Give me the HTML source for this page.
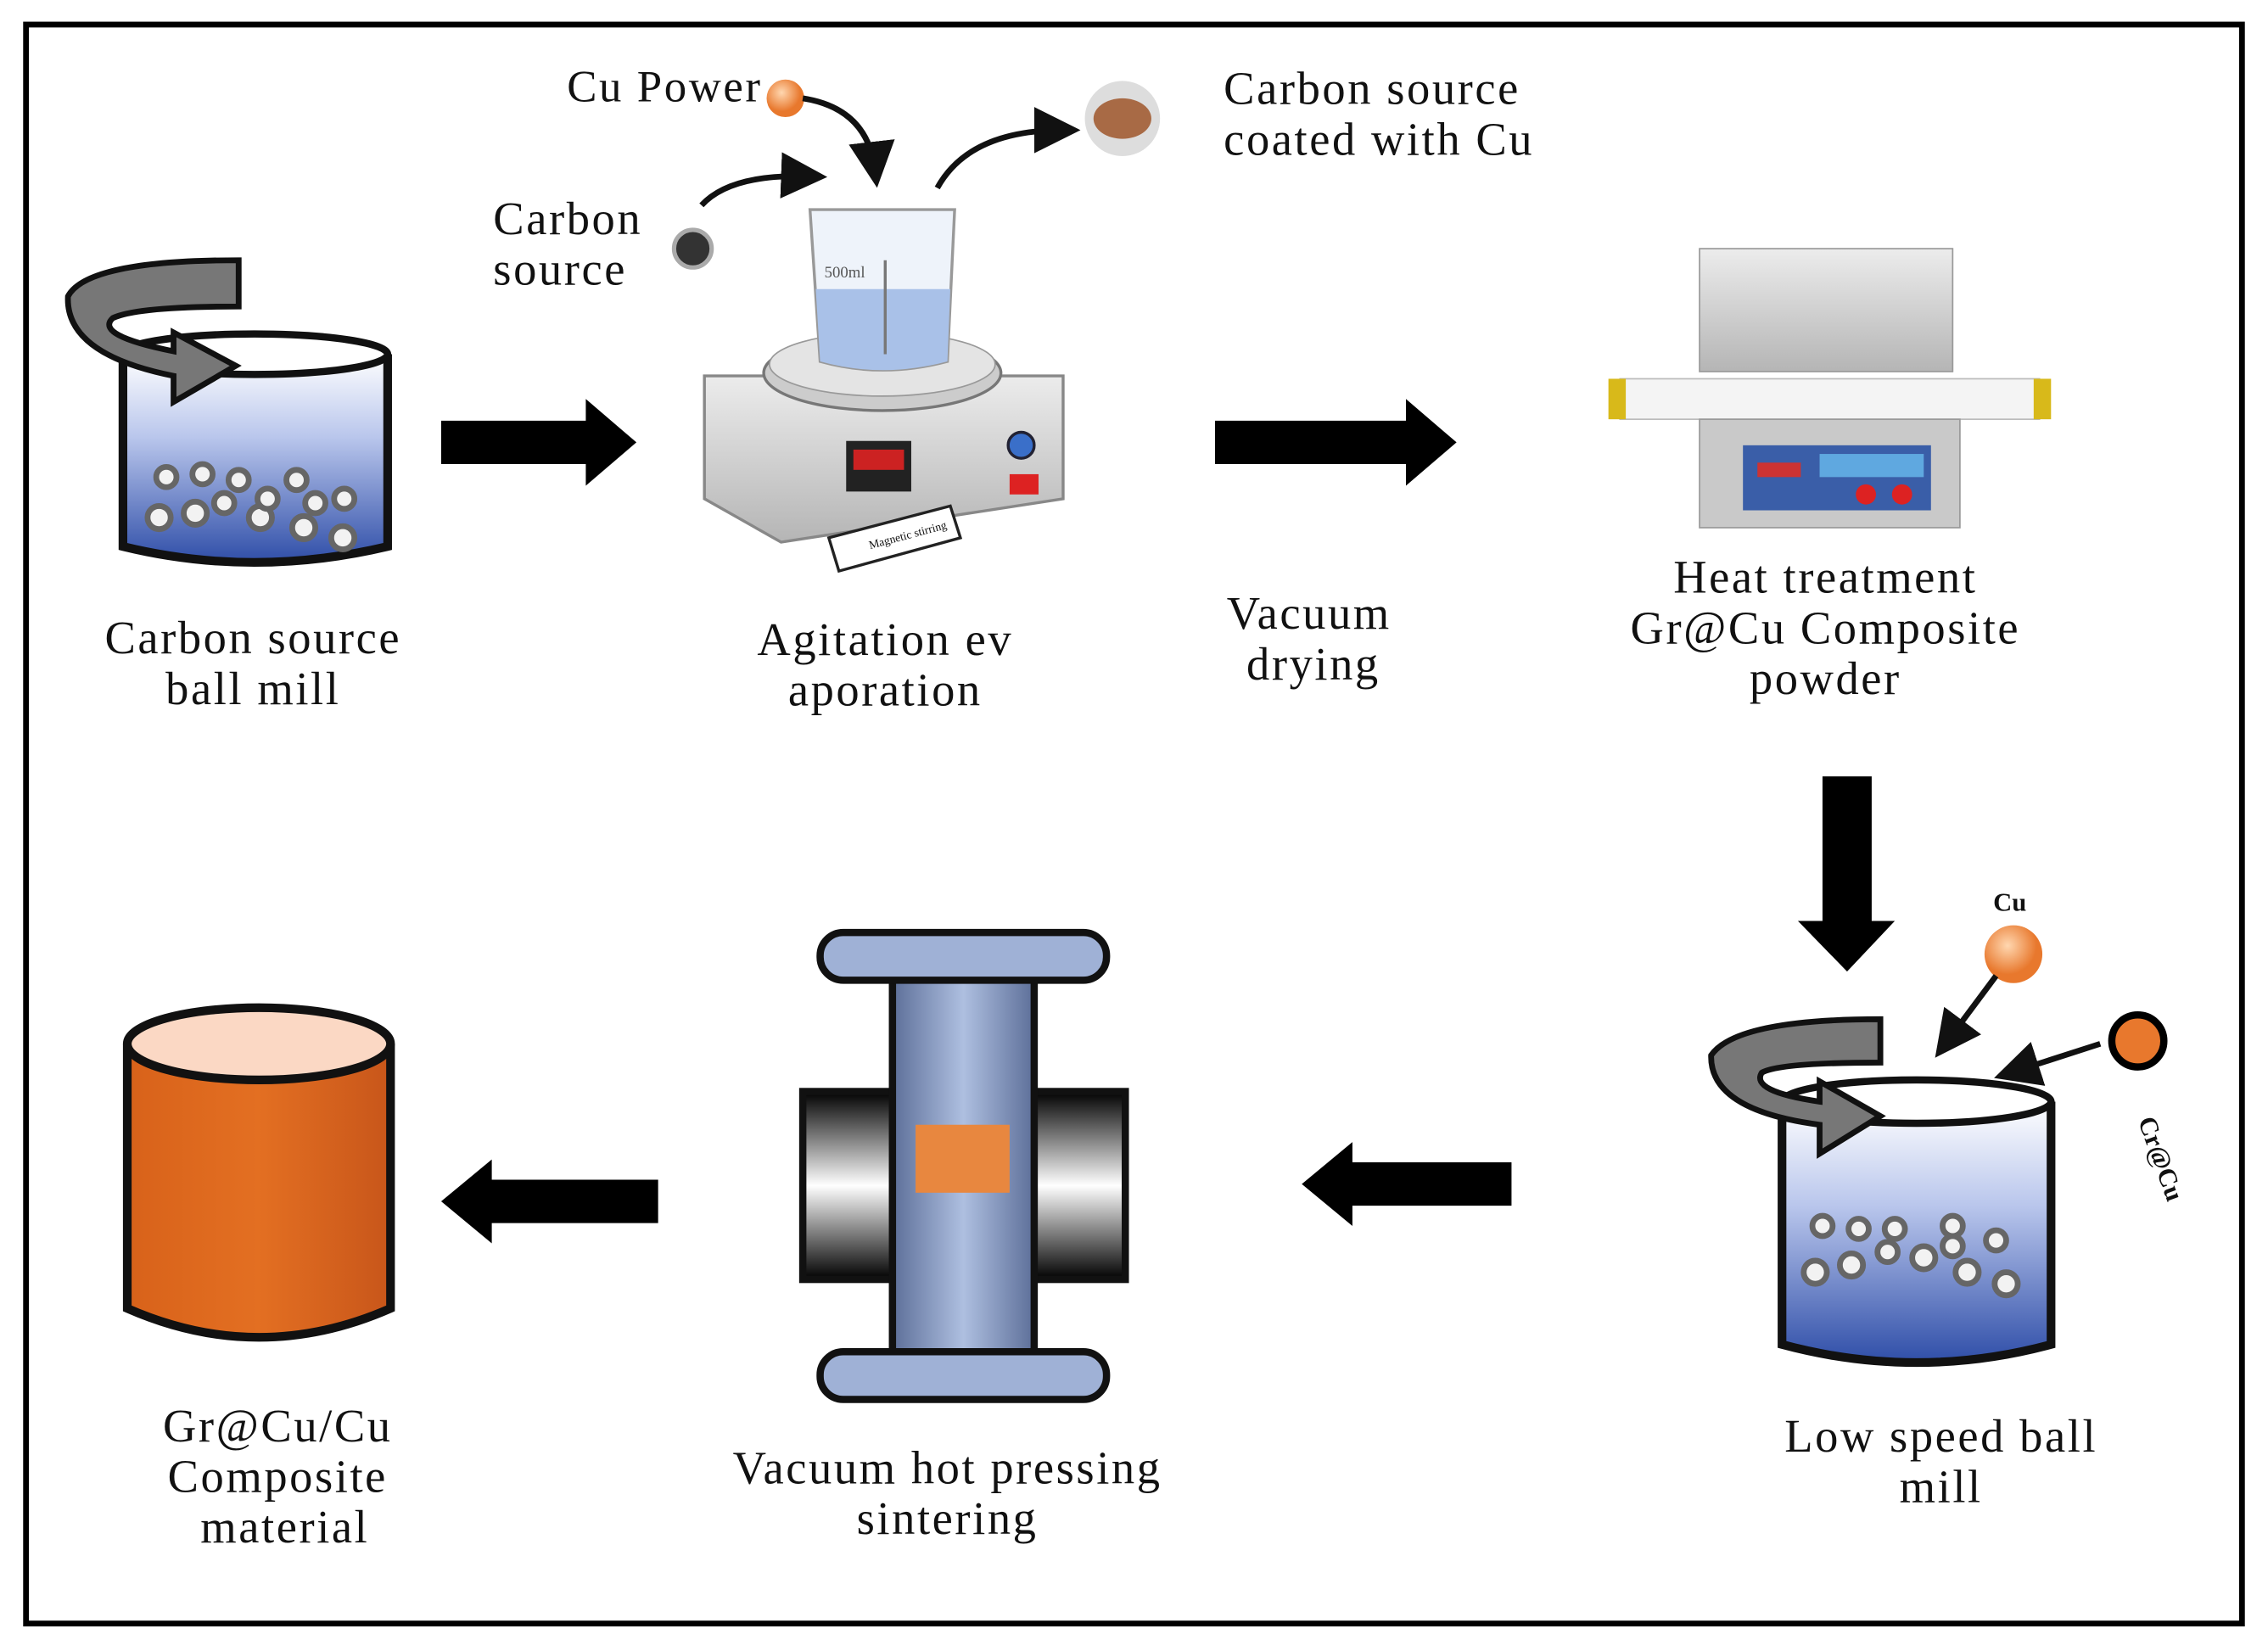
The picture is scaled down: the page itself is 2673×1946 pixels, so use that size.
<!DOCTYPE html>
<html><head><meta charset="utf-8"><style>
html,body{margin:0;padding:0;background:#fff;}
svg{display:block;}
text{font-family:"Liberation Serif",serif;fill:#111;letter-spacing:1.5px;}
text.s{letter-spacing:0;}
</style></head><body>
<svg width="2673" height="1946" viewBox="0 0 1568 1142" preserveAspectRatio="none" xmlns="http://www.w3.org/2000/svg">
<defs>
<linearGradient id="liq" x1="0" y1="0" x2="0" y2="1"><stop offset="0" stop-color="#fff"/><stop offset="0.4" stop-color="#b9c6ec"/><stop offset="1" stop-color="#2f4ea8"/></linearGradient>
<linearGradient id="gray" x1="0" y1="0" x2="0" y2="1"><stop offset="0" stop-color="#ececec"/><stop offset="1" stop-color="#b5b5b5"/></linearGradient>
<linearGradient id="col" x1="0" y1="0" x2="1" y2="0"><stop offset="0" stop-color="#5d6f99"/><stop offset="0.5" stop-color="#aebfe0"/><stop offset="1" stop-color="#5d6f99"/></linearGradient>
<linearGradient id="side" x1="0" y1="0" x2="0" y2="1"><stop offset="0" stop-color="#000"/><stop offset="0.5" stop-color="#fff"/><stop offset="1" stop-color="#000"/></linearGradient>
<radialGradient id="cu" cx="0.4" cy="0.35"><stop offset="0" stop-color="#ffd7b0"/><stop offset="1" stop-color="#e8782d"/></radialGradient>
<linearGradient id="orange" x1="0" y1="0" x2="1" y2="0"><stop offset="0" stop-color="#d8621a"/><stop offset="0.5" stop-color="#e36f22"/><stop offset="1" stop-color="#c8561a"/></linearGradient>
<marker id="ah" markerWidth="8" markerHeight="8" refX="5" refY="4" orient="auto"><path d="M0,0 L8,4 L0,8 Z" fill="#111"/></marker>
</defs>
<rect x="0" y="0" width="1568" height="1142" fill="#fff"/>
<rect x="18" y="17" width="1532" height="1106" fill="none" stroke="#000" stroke-width="4"/>

<g>
<path d="M85,245 L85,378 Q175,400 268,378 L268,245" fill="url(#liq)" stroke="#111" stroke-width="6"/>
<ellipse cx="176" cy="245" rx="92" ry="14" fill="#fff" stroke="#111" stroke-width="5"/>
<g fill="#f2f2f2" stroke="#666" stroke-width="4">
<circle cx="115" cy="330" r="7"/><circle cx="140" cy="328" r="7"/><circle cx="165" cy="332" r="7"/><circle cx="205" cy="332" r="7"/><circle cx="238" cy="345" r="7"/>
<circle cx="110" cy="358" r="8"/><circle cx="135" cy="355" r="8"/><circle cx="155" cy="348" r="7"/><circle cx="180" cy="358" r="8"/><circle cx="210" cy="365" r="8"/><circle cx="237" cy="372" r="8"/><circle cx="185" cy="345" r="7"/><circle cx="218" cy="348" r="7"/>
</g>
<path d="M165,180 Q60,180 47,205 Q45,245 120,260 L120,278 L163,253 L120,230 L120,243 Q65,232 78,220 Q95,212 165,212 Z" fill="#777" stroke="#111" stroke-width="4"/>
</g>
<text x="175" y="452" font-size="32" text-anchor="middle">Carbon source</text>
<text x="175" y="487" font-size="32" text-anchor="middle">ball mill</text>

<path d="M305,291 L405,291 L405,276 L440,306 L405,336 L405,321 L305,321 Z" fill="#000"/>

<g>
<path d="M487,260 L735,260 L735,345 L540,375 L487,345 Z" fill="url(#gray)" stroke="#888" stroke-width="2"/>
<ellipse cx="610" cy="258" rx="82" ry="26" fill="#ccc" stroke="#777" stroke-width="2"/>
<ellipse cx="610" cy="252" rx="78" ry="22" fill="#e4e4e4" stroke="#999"/>
<path d="M560,145 L660,145 L655,250 Q610,262 567,250 Z" fill="#eef3fa" stroke="#999" stroke-width="2"/>
<path d="M564,200 L657,200 L655,250 Q610,262 567,250 Z" fill="#a9c1e8"/>
<line x1="612" y1="180" x2="612" y2="245" stroke="#777" stroke-width="2"/>
<text class="s" x="570" y="192" font-size="11" style="fill:#555">500ml</text>
<rect x="585" y="305" width="45" height="35" fill="#222"/>
<rect x="590" y="311" width="35" height="14" fill="#c22"/>
<circle cx="706" cy="308" r="9" fill="#3a6fc9" stroke="#223" stroke-width="2"/>
<rect x="698" y="328" width="20" height="14" fill="#d22"/>
<path d="M573,372 L657,350 L664,372 L580,395 Z" fill="#fff" stroke="#222" stroke-width="2"/>
<text class="s" x="600" y="376" font-size="8" transform="rotate(-15 615 372)">Magnetic stirring</text>
</g>
<circle cx="479" cy="172" r="13" fill="#333" stroke="#aaa" stroke-width="3"/>
<circle cx="543" cy="68" r="13" fill="url(#cu)"/>
<path d="M485,142 Q505,120 560,122" fill="none" stroke="#111" stroke-width="4" marker-end="url(#ah)"/>
<path d="M555,68 Q600,75 605,118" fill="none" stroke="#111" stroke-width="4" marker-end="url(#ah)"/>
<path d="M648,130 Q670,90 735,90" fill="none" stroke="#111" stroke-width="4" marker-end="url(#ah)"/>
<circle cx="776" cy="82" r="26" fill="#ddd"/><ellipse cx="776" cy="82" rx="20" ry="14" fill="#a86a45"/>
<text x="392" y="70" font-size="31">Cu Power</text>
<text x="341" y="162" font-size="32">Carbon</text>
<text x="341" y="197" font-size="32">source</text>
<text x="846" y="72" font-size="32">Carbon source</text>
<text x="846" y="107" font-size="32">coated with Cu</text>
<text x="612" y="453" font-size="32" text-anchor="middle">Agitation ev</text>
<text x="612" y="488" font-size="32" text-anchor="middle">aporation</text>

<path d="M840,291 L972,291 L972,276 L1007,306 L972,336 L972,321 L840,321 Z" fill="#000"/>
<text x="905" y="435" font-size="32" text-anchor="middle">Vacuum</text>
<text x="908" y="470" font-size="32" text-anchor="middle">drying</text>

<g>
<rect x="1175" y="172" width="175" height="85" fill="url(#gray)" stroke="#999"/>
<rect x="1120" y="262" width="290" height="28" fill="#f4f4f4" stroke="#bbb"/>
<rect x="1112" y="262" width="12" height="28" fill="#d8b91a"/><rect x="1406" y="262" width="12" height="28" fill="#d8b91a"/>
<rect x="1175" y="290" width="180" height="75" fill="#c9c9c9" stroke="#999"/>
<rect x="1205" y="308" width="130" height="45" fill="#3a5ea8"/>
<rect x="1258" y="314" width="72" height="16" fill="#5fa8e0"/>
<rect x="1215" y="320" width="30" height="10" fill="#c33"/>
<circle cx="1290" cy="342" r="7" fill="#d22"/><circle cx="1315" cy="342" r="7" fill="#d22"/>
</g>
<text x="1262" y="410" font-size="32" text-anchor="middle">Heat treatment</text>
<text x="1262" y="445" font-size="32" text-anchor="middle">Gr@Cu Composite</text>
<text x="1262" y="480" font-size="32" text-anchor="middle">powder</text>

<path d="M1260,537 L1294,537 L1294,637 L1310,637 L1277,672 L1243,637 L1260,637 Z" fill="#000"/>

<g>
<path d="M1232,762 L1232,930 Q1325,955 1418,930 L1418,762" fill="url(#liq)" stroke="#111" stroke-width="6"/>
<ellipse cx="1325" cy="762" rx="93" ry="15" fill="#fff" stroke="#111" stroke-width="5"/>
<g fill="#f2f2f2" stroke="#666" stroke-width="4">
<circle cx="1260" cy="848" r="7"/><circle cx="1285" cy="850" r="7"/><circle cx="1310" cy="850" r="7"/><circle cx="1350" cy="848" r="7"/><circle cx="1380" cy="858" r="7"/>
<circle cx="1255" cy="880" r="8"/><circle cx="1280" cy="875" r="8"/><circle cx="1305" cy="866" r="7"/><circle cx="1330" cy="870" r="8"/><circle cx="1360" cy="880" r="8"/><circle cx="1387" cy="888" r="8"/><circle cx="1350" cy="862" r="7"/>
</g>
<path d="M1300,705 Q1200,705 1183,730 Q1182,768 1258,778 L1258,798 L1300,772 L1258,748 L1258,762 Q1210,755 1218,742 Q1230,735 1300,735 Z" fill="#777" stroke="#111" stroke-width="4"/>
</g>
<circle cx="1392" cy="660" r="20" fill="url(#cu)"/>
<circle cx="1478" cy="720" r="18" fill="#e8782d" stroke="#000" stroke-width="5"/>
<line x1="1380" y1="675" x2="1345" y2="722" stroke="#111" stroke-width="4" marker-end="url(#ah)"/>
<line x1="1452" y1="722" x2="1390" y2="742" stroke="#111" stroke-width="4" marker-end="url(#ah)"/>
<text class="s" x="1378" y="630" font-size="18" font-weight="bold">Cu</text>
<text class="s" x="1478" y="775" font-size="18" font-weight="bold" transform="rotate(70 1478 775)">Cr@Cu</text>
<text x="1342" y="1004" font-size="32" text-anchor="middle">Low speed ball</text>
<text x="1342" y="1039" font-size="32" text-anchor="middle">mill</text>

<path d="M1045,804 L935,804 L935,790 L900,819 L935,848 L935,834 L1045,834 Z" fill="#000"/>

<g stroke="#111" stroke-width="5">
<rect x="555" y="755" width="223" height="130" fill="url(#side)"/>
<rect x="617" y="675" width="98" height="265" fill="url(#col)"/>
<rect x="567" y="645" width="198" height="33" rx="16" fill="#9fb1d6"/>
<rect x="567" y="935" width="198" height="33" rx="16" fill="#9fb1d6"/>
</g>
<rect x="633" y="778" width="65" height="47" fill="#e8873f"/>
<text x="655" y="1026" font-size="32" text-anchor="middle">Vacuum hot pressing</text>
<text x="655" y="1061" font-size="32" text-anchor="middle">sintering</text>

<path d="M455,816 L340,816 L340,802 L305,831 L340,860 L340,846 L455,846 Z" fill="#000"/>

<g stroke="#111" stroke-width="6">
<path d="M88,722 L88,905 Q179,945 270,905 L270,722" fill="url(#orange)"/>
<ellipse cx="179" cy="722" rx="91" ry="25" fill="#fbd8c4"/>
</g>
<text x="192" y="997" font-size="32" text-anchor="middle">Gr@Cu/Cu</text>
<text x="192" y="1032" font-size="32" text-anchor="middle">Composite</text>
<text x="197" y="1067" font-size="32" text-anchor="middle">material</text>
</svg>
</body></html>
